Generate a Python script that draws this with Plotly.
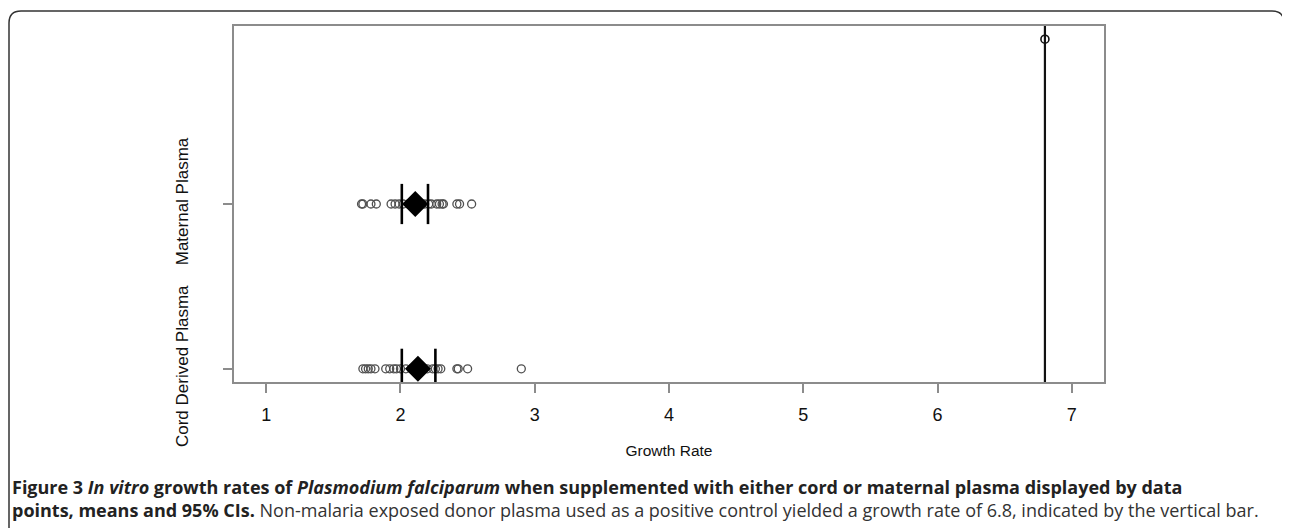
import plotly.graph_objects as go

# ---- data ----
categories = ["Cord Derived Plasma", "Maternal Plasma"]
cord_values = [1.72, 1.74, 1.76, 1.78, 1.81, 1.89, 1.92, 1.95, 1.97, 2.00, 2.04,
               2.08, 2.12, 2.16, 2.20, 2.24, 2.26, 2.28, 2.30, 2.42, 2.43, 2.50, 2.90]
maternal_values = [1.71, 1.72, 1.78, 1.82, 1.93, 1.96, 1.99, 2.02, 2.06, 2.10, 2.14,
                   2.18, 2.21, 2.23, 2.27, 2.29, 2.31, 2.32, 2.42, 2.44, 2.53]
group_means = [2.13, 2.11]
ci_lower = [2.01, 2.01]
ci_upper = [2.26, 2.205]
control_value = 6.8
control_position = 3
x_ticks = [1, 2, 3, 4, 5, 6, 7]

W, H = 1290, 528
OFF = 8  # page body margin
# plot box in page pixels
L, R, T, B = 234, 1104, 26, 382

fig = go.Figure()

group_values = [cord_values, maternal_values]
for i, vals in enumerate(group_values):
    fig.add_trace(go.Scatter(
        x=vals, y=[i + 1] * len(vals), mode="markers",
        marker=dict(symbol="circle-open", size=8, color="#505050",
                    line=dict(width=1.3, color="#505050")),
        hoverinfo="x", showlegend=False))

# control point
fig.add_trace(go.Scatter(
    x=[control_value], y=[control_position], mode="markers",
    marker=dict(symbol="circle-open", size=8, color="#111",
                line=dict(width=1.6, color="#111")),
    showlegend=False))

# means
fig.add_trace(go.Scatter(
    x=group_means, y=[1, 2], mode="markers",
    marker=dict(symbol="diamond", size=20, color="black"),
    showlegend=False))

# CI bars
hx, hy = [], []
half = 0.122
for i in range(len(categories)):
    for v in (ci_lower[i], ci_upper[i]):
        hx += [v, v, None]
        hy += [i + 1 - half, i + 1 + half, None]
fig.add_trace(go.Scatter(x=hx, y=hy, mode="lines",
                         line=dict(color="black", width=2.6), showlegend=False))

# control vertical bar
fig.add_vline(x=control_value, line=dict(color="#111", width=2.2))

axis_family = "Liberation Sans, Arial"
fig.update_xaxes(range=[0.76, 7.24], tickvals=x_ticks, ticktext=[str(t) for t in x_ticks],
                 showgrid=False, zeroline=False, showline=True, mirror=True,
                 linecolor="#8c8c8c", linewidth=1.5, ticks="outside", ticklen=9,
                 tickwidth=1.5, tickcolor="#8c8c8c",
                 tickfont=dict(family=axis_family, size=18, color="#111"),
                 ticklabelstandoff=7,
                 title=dict(text="Growth Rate", font=dict(family=axis_family, size=15.5, color="#111"),
                            standoff=21))
fig.update_yaxes(range=[0.92, 3.08], tickvals=[1, 2], ticktext=categories,
                 showgrid=False, zeroline=False, showline=True, mirror=True,
                 linecolor="#8c8c8c", linewidth=1.5, ticks="outside", ticklen=9,
                 tickwidth=1.5, tickcolor="#8c8c8c", tickangle=-90,
                 tickfont=dict(family=axis_family, size=17, color="#111"),
                 ticklabelstandoff=28)

def px(x):
    return (x - L) / (R - L)

def py(y):
    return (B - y) / (B - T)

# rounded frame (page pixels)
x0, x1, y0, y1, r = 9, 1284, 11, 560, 12
frame = (f"M {px(x0)},{py(y1)} L {px(x0)},{py(y0 + r)} "
         f"Q {px(x0)},{py(y0)} {px(x0 + r)},{py(y0)} "
         f"L {px(x1 - r)},{py(y0)} Q {px(x1)},{py(y0)} {px(x1)},{py(y0 + r)} "
         f"L {px(x1)},{py(y1)}")
fig.add_shape(type="path", path=frame, xref="paper", yref="paper",
              line=dict(color="#333", width=1.5))

cap_font = dict(family="Open Sans, Liberation Sans", size=18, color="#222")
caption = ("<b>Figure 3 <i>In vitro</i> growth rates of <i>Plasmodium falciparum</i> when supplemented "
           "with either cord or maternal plasma displayed by data</b><br>"
           "<b>points, means and 95% CIs.</b> <span style='color:#333'>Non-malaria exposed donor plasma "
           "used as a positive control yielded a growth rate of 6.8, indicated by the vertical bar.</span>")
fig.add_annotation(x=px(10), y=py(498), xref="paper", yref="paper", xanchor="left", yanchor="middle",
                   align="left", showarrow=False, font=cap_font, text=caption)

fig.update_layout(width=W, height=H,
                  margin=dict(l=L - OFF, r=W - (R - OFF), t=T - OFF, b=H - (B - OFF)),
                  paper_bgcolor="white", plot_bgcolor="white", showlegend=False)

fig.write_html("out.html")
